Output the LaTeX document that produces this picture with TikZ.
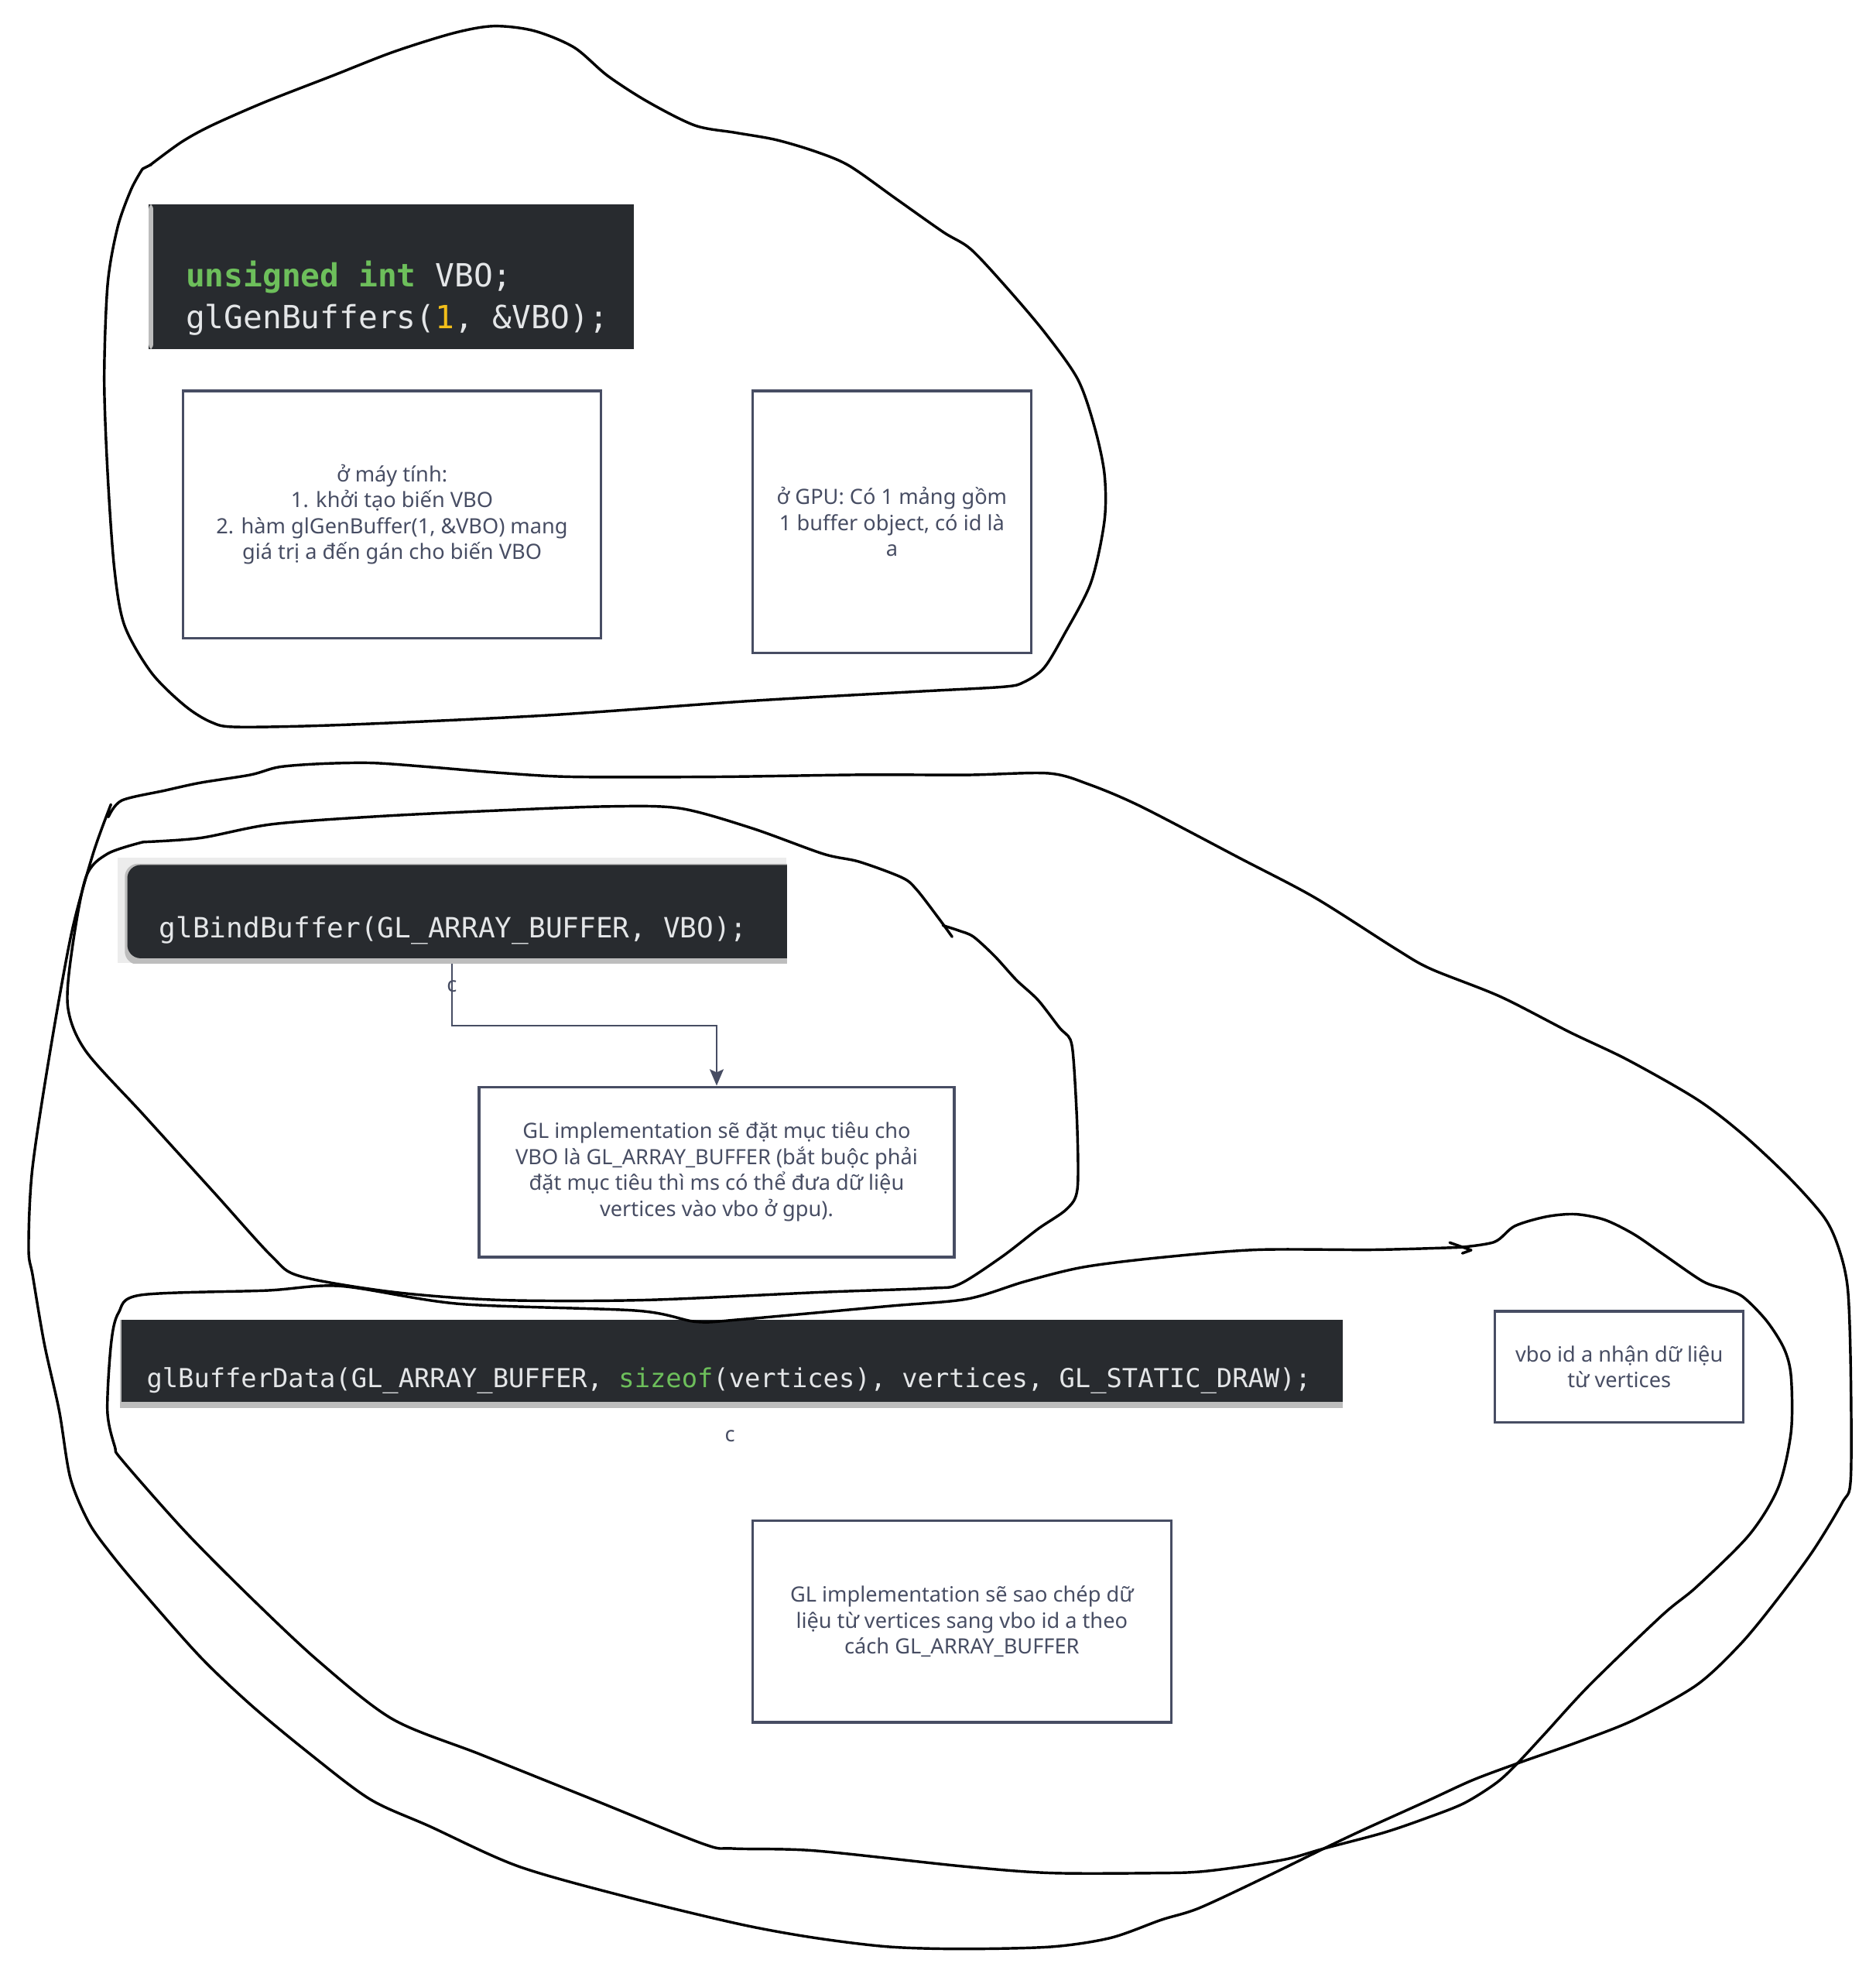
\documentclass[tikz,border=0pt]{standalone}
\usepackage{fontspec}
\setmainfont{Noto Sans}
\newfontfamily\codefont{DejaVu Sans Mono}
\usetikzlibrary{arrows.meta}
\definecolor{slate}{HTML}{474D63}
\definecolor{codebg}{HTML}{282B2F}
\definecolor{codefg}{HTML}{E4E6E8}
\definecolor{codegreen}{HTML}{6DBF5B}
\definecolor{codegold}{HTML}{F2BE1A}
\definecolor{shotedge}{HTML}{BDBDBD}
\definecolor{shotpale}{HTML}{ECECEC}
\tikzset{
  sketch/.style={line width=1.2pt, black, line join=round, line cap=round},
  note/.style={draw=slate, line width=1.1pt, fill=white, text=slate, align=center,
    inner sep=2pt, font=\fontsize{9.5}{11.7}\selectfont},
  shot/.style={fill=codebg, inner sep=0pt},
  codetxt/.style={text=codefg, anchor=west, align=left, inner sep=0pt},
  tag/.style={text=slate, inner sep=1pt, font=\fontsize{9.5}{11}\selectfont},
  link/.style={draw=slate, line width=0.7pt, -{Stealth[length=2.6mm, width=2.2mm, inset=0.5mm]}}
}
\begin{document}
\begin{tikzpicture}[x=0.02cm, y=-0.02cm]
			%%%%% START %%%%%
			\fill[white] (0,0) rectangle (1488,1568);
			\useasboundingbox (0,0) rectangle (1488,1568);
			
			%%%%% screenshots of the code
			\node[shot, minimum width=7.7cm, minimum height=2.3cm] (gencode) at (310.5,219.5) {};
			\fill[shotedge, rounded corners=2] (118,162) rectangle (121.5,277);
			\node[codetxt, font=\codefont\fontsize{14.4}{18.7}\selectfont] (gentxt) at (147,236.5)
				{{\color{codegreen}\textbf{unsigned int}} VBO;\\glGenBuffers({\color{codegold}1}, \&VBO);};
			
			\node[shot, fill=shotpale, minimum width=10.62cm, minimum height=1.68cm] (bindcode) at (358.5,722) {};
			\begin{scope}
				\clip (bindcode.north west) rectangle (bindcode.south east);
				\fill[shotedge, rounded corners=6] (99,685) rectangle (660,765);
				\fill[codebg, rounded corners=6] (101,686) rectangle (660,760);
			\end{scope}
			\node[codetxt, font=\codefont\fontsize{12.6}{15}\selectfont] (bindtxt) at (126,738)
				{glBindBuffer(GL\_ARRAY\_BUFFER, VBO);};
			
			\node[shot, minimum width=19.4cm, minimum height=1.4cm] (datacode) at (580,1082) {};
			\fill[shotedge] (95,1112) rectangle (1065,1117);
			\fill[shotedge] (95,1047) rectangle (96.5,1117);
			\node[codetxt, font=\codefont\fontsize{11.8}{14}\selectfont] (datatxt) at (116,1095)
				{glBufferData(GL\_ARRAY\_BUFFER, {\color{codegreen}sizeof}(vertices), vertices, GL\_STATIC\_DRAW);};
			
			%%%%% notes
			\node[note, minimum width=6.64cm, minimum height=3.92cm] (pcnote) at (311,408)
				{ở máy tính:\\1. khởi tạo biến VBO\\2. hàm glGenBuffer(1, \&VBO) mang\\giá trị a đến gán cho biến VBO};
			\node[note, minimum width=4.42cm, minimum height=4.16cm] (gpunote) at (707.5,414)
				{ở GPU: Có 1 mảng gồm\\1 buffer object, có id là\\a};
			\node[note, minimum width=7.54cm, minimum height=2.7cm] (gltarget) at (568.5,929.5)
				{GL implementation sẽ đặt mục tiêu cho\\VBO là GL\_ARRAY\_BUFFER (bắt buộc phải\\đặt mục tiêu thì ms có thể đưa dữ liệu\\vertices vào vbo ở gpu).};
			\node[note, minimum width=3.94cm, minimum height=1.76cm] (vbonote) at (1284.5,1084)
				{vbo id a nhận dữ liệu\\từ vertices};
			\node[note, minimum width=6.64cm, minimum height=3.2cm] (glcopy) at (763,1286)
				{GL implementation sẽ sao chép dữ\\liệu từ vertices sang vbo id a theo\\cách GL\_ARRAY\_BUFFER};
			
			\draw[link] (bindcode.south) -- node[tag, pos=0.37] (c1) {c} ++(0,49) -| (gltarget.north);
			\node[tag] (c2) at (579,1139) {c};
			
			%%%%% hand drawn loops
			\draw[sketch] plot[smooth, tension=0.5] coordinates {(119,131) (143.9,112.7) (167.9,99.5) (210.5,80.8) (263.7,60.1) (311.7,41.3) (359.6,26.3) (391.5,20.7) (423.5,24.4) (455.4,37.6) (482,60.1) (514,80.8) (551.3,99.5) (583.2,105.2) (615.2,110.8) (647,120.2) (673.7,131.5) (711,157.8) (748.3,184.1) (769.6,197.2) (796.2,225.4) (828.2,263) (854.8,300.5) (868.1,338.1) (876.1,375.7) (876.1,413.2) (865.4,462.1) (844.1,503.4) (828.2,529.7) (812.2,541) (796.2,544.7) (727,548.5) (593.9,556) (434.1,567.3) (274.4,574.8) (189.2,576.6) (167.9,572.9) (146.6,559.7) (120,533.4) (98.7,495.9) (90.7,450.8) (85.4,375.7) (82.7,300.5) (85.4,225.4) (93.3,180.3) (104,150.3) (113,134)};
			\draw[sketch] (113,134) -- (120,130.5);
			
			\draw[sketch] plot[smooth, tension=0.5] coordinates {(113.6,667.8) (159,664.6) (215.8,653.7) (301,647.4) (397.5,642.7) (482.7,639.6) (539.5,641.1) (596.3,656.8) (653,677.2) (681.4,683.4) (715.5,696) (726.9,705.3) (743.9,727.3) (755.3,743)};
			\draw[sketch] plot[smooth, tension=0.5] coordinates {(748,734) (761,738.2) (772.3,743) (789.3,758.6) (806.4,777.4) (823.4,793.1) (840.4,815) (849,824.4) (851.8,843.2) (854.6,896.4) (854.6,943.4) (846.1,959) (823.4,974.7) (795,996.6) (761,1018.5) (738.2,1021.7) (653,1024.8) (511.1,1031.1) (397.5,1031.1) (312.3,1024.8) (238.5,1012.3) (215.8,996.6) (170.4,946.5) (113.6,883.9) (68.1,833.7) (53.9,799.3) (56.8,755.5) (68.1,695.9) (85.2,677.2) (113.6,667.8)};
			
			\draw[sketch] plot[smooth, tension=0.5] coordinates {(86,648) (96.5,634.9) (130.6,627) (159,620.8) (198.8,614.5) (221.5,608.3) (255.5,605.7) (295.3,605.1) (340.7,608.3) (397.5,613) (454.3,616.1) (567.9,616.1) (681.4,614.5) (767.3,614.6) (831.6,613.3) (863.8,622.1) (905.2,639.7) (983.3,680.5) (1043,711.9) (1107.4,752.7) (1134.9,768.4) (1190.1,790.4) (1245.2,818.6) (1291.2,840.6) (1346.3,872) (1383.1,900.2) (1419.9,934.7) (1447.5,966.1) (1459,991.2) (1465.8,1022.6) (1468.1,1085.4) (1468.1,1173.3) (1461.2,1192.1) (1438.3,1229.8) (1410.7,1267.4) (1381.2,1303.4) (1346.2,1336.2) (1296.8,1363.8) (1252.9,1381.2) (1203.6,1398.6) (1168,1411.9) (1132.3,1428.3) (1080.3,1451.8) (1050.2,1466.1) (1006.3,1487.6) (951.5,1513.2) (921.1,1522.7) (881.2,1536.9) (834.2,1544) (763.7,1545.7) (704.9,1544) (646.2,1536.9) (587.4,1526.2) (499.3,1505) (411.2,1480.2) (340.7,1448.4) (293.7,1427.1) (246.7,1391.7) (199.7,1352.8) (158.6,1313.8) (111.6,1260.7) (88.1,1232.4) (70.5,1207.6) (55.8,1172.2) (47,1119.1) (35.2,1066) (26,1012) (22.7,990.3) (25.6,927.7) (39.8,833.7) (56.8,739.8) (73.8,677.2) (88,638)};
			
			\draw[sketch] plot[smooth, tension=0.5] coordinates {(1158,989.3) (1185.5,985) (1201.6,972.4) (1226.9,964.9) (1249.8,963) (1272.8,967.4) (1295.8,978.7) (1318.8,994.4) (1350.9,1016.3) (1369.3,1022.6) (1383.1,1028.9) (1401.5,1047.7) (1415.3,1069.7) (1420.8,1091.7) (1420.8,1135.6) (1410.7,1179.6) (1387.7,1217.2) (1346,1258.4) (1318.6,1281) (1261.2,1336.2) (1225.5,1375) (1203.6,1398.6) (1187.2,1413.9) (1161.1,1430.3) (1129.7,1442.6) (1096.7,1453.8) (1050.2,1466.1) (1021.4,1474.3) (984.4,1480.5) (951.5,1484.5) (921.1,1485.5) (834.2,1485.5) (763.7,1480.2) (646.2,1467.8) (581.6,1466.1) (558.1,1462.5) (470,1427.1) (381.8,1391.7) (311.3,1363.4) (252.6,1317.4) (199.7,1267.8) (146.9,1214.7) (96.9,1158.1) (91.1,1147.4) (85.2,1119.1) (88.1,1066) (94,1041.2) (111.6,1027.1) (211.5,1023.5) (270.2,1020) (364.2,1034.1) (505.2,1039.5) (552.2,1048.3) (587.4,1046.5) (705,1035.9) (767.3,1030.2) (813.3,1016.3) (859.2,1005) (919,997.5) (997,991.2) (1089,991.2) (1158,989.3)};
			\draw[sketch] (1150,985.5) -- (1167,991.5) -- (1160,994);
			
			%%%%% END %%%%%
\end{tikzpicture}
\end{document}
